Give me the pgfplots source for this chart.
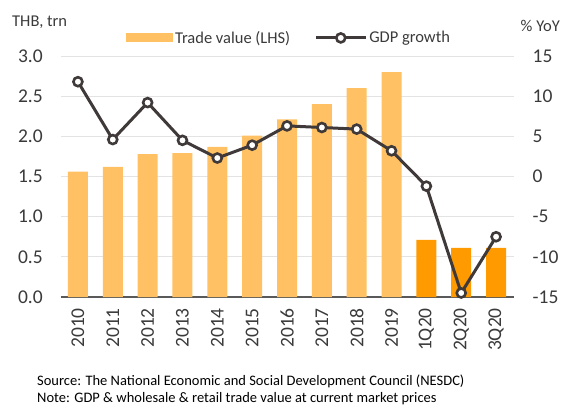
\documentclass[border=0pt]{standalone}
\usepackage{pgfplots}
\pgfplotsset{compat=1.18}
\usepackage{fontspec}
\setmainfont{Carlito}
\definecolor{barlight}{HTML}{FFC163}
\definecolor{bardark}{HTML}{FF9A00}
\definecolor{linec}{HTML}{3F3939}
\definecolor{gridc}{HTML}{E3E3E3}
\definecolor{txt}{HTML}{3A3A3A}
\definecolor{axc}{HTML}{595959}
\pgfplotsset{
  gdp legend/.style={legend image code/.code={\draw[mark repeat=2, mark phase=2, ##1] plot coordinates {(0pt,0pt) (25pt,0pt) (50pt,0pt)};}},
  bar legend/.style={legend image code/.code={\fill[barlight] (0pt,-4.5pt) rectangle (47pt,4.5pt);}},
}
\begin{document}
\begin{tikzpicture}[x=1pt,y=1pt]
\path[use as bounding box] (0,0) rectangle (561,407);
\pgfplotsset{common/.style={
  at={(60.5pt,110pt)}, anchor=south west, scale only axis,
  width=453pt, height=241pt, xmin=-0.5, xmax=12.5,
  major tick length=0pt,
  tick label style={font=\fontsize{19.5}{21}\selectfont, text=txt},
  /pgf/number format/assume math mode=true,
}}
\begin{axis}[common, ymin=0, ymax=3, ytick={0,0.5,1,1.5,2,2.5,3},
  y tick label style={/pgf/number format/fixed, /pgf/number format/fixed zerofill, /pgf/number format/precision=1},
  yticklabel style={anchor=east, inner sep=0pt, xshift=-17.5pt},
  xtick={0,...,12},
  xticklabels={2010,2011,2012,2013,2014,2015,2016,2017,2018,2019,1Q20,2Q20,3Q20},
  xticklabel style={yshift=-11pt, rotate=90, anchor=east, inner sep=0pt},
  axis x line*=bottom, axis y line*=left,
  y axis line style={draw=none},
  x axis line style={draw=axc, line width=1.3pt},
  ymajorgrids, grid style={draw=gridc, line width=0.9pt},
  legend columns=-1,
  legend style={at={(0.1446,1.075)}, anchor=west, draw=none, fill=none, inner sep=0pt, outer sep=0pt,
    font=\fontsize{16.5}{18}\selectfont, text=txt,
    /tikz/every even column/.append style={column sep=22pt}},
]
\addplot[ybar, bar width=20pt, bar shift=0pt, fill=barlight, draw=none, bar legend]
  coordinates {(0,1.56) (1,1.62) (2,1.78) (3,1.79) (4,1.87) (5,2.01) (6,2.21) (7,2.40) (8,2.60) (9,2.80)};
\addlegendentry{Trade value (LHS)}
\addplot[ybar, bar width=20pt, bar shift=0pt, fill=bardark, draw=none, forget plot]
  coordinates {(10,0.71) (11,0.61) (12,0.61)};
\addlegendimage{linec, line width=3pt, mark=*, mark size=4.5pt, mark options={fill=white, draw=linec, line width=2.6pt}, gdp legend}
\addlegendentry{GDP growth}
\end{axis}
\begin{axis}[common, ymin=-15, ymax=15, ytick={-15,-10,...,15},
  axis y line*=right, axis x line=none,
  y axis line style={draw=none},
  yticklabel style={anchor=west, inner sep=0pt, xshift=19pt},
]
\addplot[linec, line width=3pt, mark=*, mark size=4.5pt, mark options={fill=white, draw=linec, line width=2.6pt}]
  coordinates {(0,11.8) (1,4.6) (2,9.2) (3,4.5) (4,2.3) (5,3.9) (6,6.3) (7,6.1) (8,5.9) (9,3.2) (10,-1.2) (11,-14.5) (12,-7.5)};
\end{axis}
\node[anchor=west, inner sep=0pt, font=\fontsize{16.5}{18}\selectfont, text=txt] at (12,385) {THB, trn};
\node[anchor=east, inner sep=0pt, font=\fontsize{16.5}{18}\selectfont, text=txt] at (560,381) {\% YoY};
\node[anchor=west, inner sep=0pt, font=\fontsize{14.5}{16}\selectfont, text=black] at (37,26) {Source: The National Economic and Social Development Council (NESDC)};
\node[anchor=west, inner sep=0pt, font=\fontsize{14.5}{16}\selectfont, text=black] at (37,8) {Note: GDP \& wholesale \& retail trade value at current market prices};
\end{tikzpicture}
\end{document}
